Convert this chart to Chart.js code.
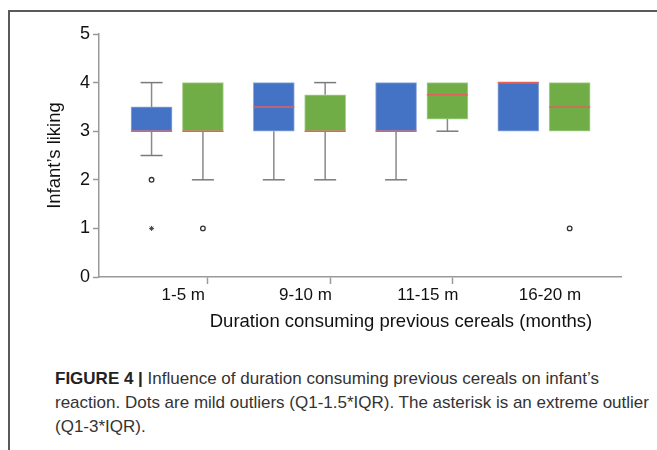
<!DOCTYPE html>
<html>
<head>
<meta charset="utf-8">
<script src="https://cdn.jsdelivr.net/npm/chart.js@4/dist/chart.umd.min.js"></script>
<style>
  html, body { margin: 0; padding: 0; background: #fff; }
  body { width: 657px; height: 450px; position: relative; overflow: hidden; }
  #frame { position: absolute; left: 8px; top: 10px; width: 660px; height: 460px;
           border-left: 2px solid #5a5a5a; border-top: 2px solid #5a5a5a; }
  #wrap { position: absolute; left: 0; top: 0; width: 657px; height: 345px; }
  #caption { position: absolute; left: 55px; top: 367px; width: 600px;
             font-family: "Liberation Sans Narrow", "Liberation Sans", Arial, sans-serif;
             font-size: 17px; line-height: 24px; color: #333; }
  #caption b { color: #222; }
</style>
</head>
<body>
<div id="frame"></div>
<div id="wrap"><canvas id="chart"></canvas></div>
<div id="caption"><b>FIGURE 4 |</b> Influence of duration consuming previous cereals on infant’s reaction. Dots are mild outliers (Q1-1.5*IQR). The asterisk is an extreme outlier (Q1-3*IQR).</div>
<script>
const categories = ['1-5 m', '9-10 m', '11-15 m', '16-20 m'];
const xTitle = 'Duration consuming previous cereals (months)';
const yTitle = 'Infant’s liking';

// blue series
const blueQ1 = [3, 3, 3, 3];
const blueQ3 = [3.5, 4, 4, 4];
const blueMedian = [3, 3.5, 3, 4];
const blueMin = [2.5, 2, 2, 3];
const blueMax = [4, 4, 4, 4];
const blueMild = [[2], [], [], []];
const blueExtreme = [[1], [], [], []];

// green series
const greenQ1 = [3, 3, 3.25, 3];
const greenQ3 = [4, 3.75, 4, 4];
const greenMedian = [3, 3, 3.75, 3.5];
const greenMin = [2, 2, 3, 3];
const greenMax = [4, 4, 4, 4];
const greenMild = [[1], [], [], [1]];

const yTicks = [0, 1, 2, 3, 4, 5];

const OFF = 0.21; // half distance between the two boxes of a group (category units)
const FONT = "'Liberation Sans', Arial, sans-serif";

function boxes(q1, q3, dx) {
  return q1.map((v, i) => ({x: i + dx, y: [v, q3[i]]}));
}
function stems(q1, q3, lo, hi, dx) {
  const pts = [];
  q1.forEach((v, i) => {
    if (lo[i] < v) pts.push({x: i + dx, y: lo[i]}, {x: i + dx, y: v}, {x: i + dx, y: null});
    if (hi[i] > q3[i]) pts.push({x: i + dx, y: q3[i]}, {x: i + dx, y: hi[i]}, {x: i + dx, y: null});
  });
  return pts;
}
function caps(q1, q3, lo, hi, dx) {
  const pts = [];
  q1.forEach((v, i) => {
    if (lo[i] < v) pts.push({x: i + dx, y: lo[i]});
    if (hi[i] > q3[i]) pts.push({x: i + dx, y: hi[i]});
  });
  return pts;
}
function points(vals, dx) {
  const pts = [];
  vals.forEach((list, i) => list.forEach(v => pts.push({x: i + dx, y: v})));
  return pts;
}

const stemData = stems(blueQ1, blueQ3, blueMin, blueMax, -OFF).concat(stems(greenQ1, greenQ3, greenMin, greenMax, OFF));
const capData = caps(blueQ1, blueQ3, blueMin, blueMax, -OFF).concat(caps(greenQ1, greenQ3, greenMin, greenMax, OFF));
const medianData = blueMedian.map((v, i) => ({x: i - OFF, y: v})).concat(greenMedian.map((v, i) => ({x: i + OFF, y: v})));
const mildData = points(blueMild, -OFF).concat(points(greenMild, OFF));
const extremeData = points(blueExtreme, -OFF);

// x-axis title sits a bit right of the plot centre in the original
const xTitlePlugin = {
  id: 'xTitle',
  afterDraw(chart) {
    const {ctx, chartArea} = chart;
    ctx.save();
    ctx.font = '18.5px ' + FONT;
    ctx.fillStyle = '#111';
    ctx.textAlign = 'center';
    ctx.textBaseline = 'middle';
    ctx.fillText(xTitle, (chartArea.left + chartArea.right) / 2 + 41, chartArea.bottom + 45);
    ctx.restore();
  }
};

const ctx = document.getElementById('chart').getContext('2d');
new Chart(ctx, {
  type: 'bar',
  data: {
    datasets: [
      {label: 'blue', data: boxes(blueQ1, blueQ3, -OFF), backgroundColor: '#4472C4',
       borderColor: '#8FAADC', borderWidth: 1, borderSkipped: false, barThickness: 41, grouped: false, order: 5},
      {label: 'green', data: boxes(greenQ1, greenQ3, OFF), backgroundColor: '#70AD47',
       borderColor: '#A9D18E', borderWidth: 1, borderSkipped: false, barThickness: 41, grouped: false, order: 5},
      {type: 'line', label: 'stems', data: stemData, borderColor: '#8a8a8a', borderWidth: 1.5,
       pointRadius: 0, spanGaps: false, order: 4},
      {type: 'line', label: 'caps', data: capData, showLine: false, pointStyle: 'line',
       pointRadius: 11, borderColor: '#7a7a7a', pointBorderWidth: 1.5, order: 3},
      {type: 'line', label: 'median', data: medianData, showLine: false, pointStyle: 'line',
       pointRadius: 20.5, borderColor: '#E0625C', pointBorderWidth: 1.5, order: 2},
      {type: 'line', label: 'mild', data: mildData, showLine: false, pointStyle: 'circle',
       pointRadius: 2.3, backgroundColor: '#fff', borderColor: '#333', pointBorderWidth: 1.3, order: 1},
      {type: 'line', label: 'extreme', data: extremeData, showLine: false, pointStyle: 'star',
       pointRadius: 2.5, borderColor: '#444', pointBorderWidth: 1, order: 1}
    ]
  },
  options: {
    responsive: true,
    maintainAspectRatio: false,
    animation: false,
    layout: {padding: {left: 44, right: 36, top: 34, bottom: 8}},
    plugins: {legend: {display: false}, tooltip: {enabled: false}},
    scales: {
      x: {
        type: 'linear',
        min: -0.64,
        max: 3.63,
        offset: false,
        afterBuildTicks: s => { s.ticks = [0, 0.5, 1, 1.5, 2, 2.5, 3].map(v => ({value: v})); },
        afterFit: s => { s.height = 60; },
        grid: {
          drawOnChartArea: false,
          tickLength: 7,
          tickWidth: 1.5,
          tickColor: c => (c.tick && c.tick.value % 1 !== 0) ? '#999' : 'rgba(0,0,0,0)'
        },
        border: {color: '#999', width: 1.5},
        ticks: {
          autoSkip: false,
          maxRotation: 0,
          padding: 1,
          labelOffset: 6,
          color: '#111',
          font: {family: FONT, size: 17},
          callback: v => (v % 1 === 0) ? categories[v] : ''
        }
      },
      y: {
        min: 0,
        max: 5,
        afterBuildTicks: s => { s.ticks = yTicks.map(v => ({value: v})); },
        afterFit: s => { s.width = 55; },
        grid: {drawOnChartArea: false, tickLength: 6, tickWidth: 1.5, tickColor: '#999'},
        border: {color: '#999', width: 1.5},
        ticks: {padding: 3, color: '#111', font: {family: FONT, size: 18}},
        title: {display: true, text: yTitle, color: '#111',
                font: {family: FONT, size: 18.5}, padding: {top: 0, bottom: 0}}
      }
    }
  },
  plugins: [xTitlePlugin]
});
</script>
</body>
</html>
